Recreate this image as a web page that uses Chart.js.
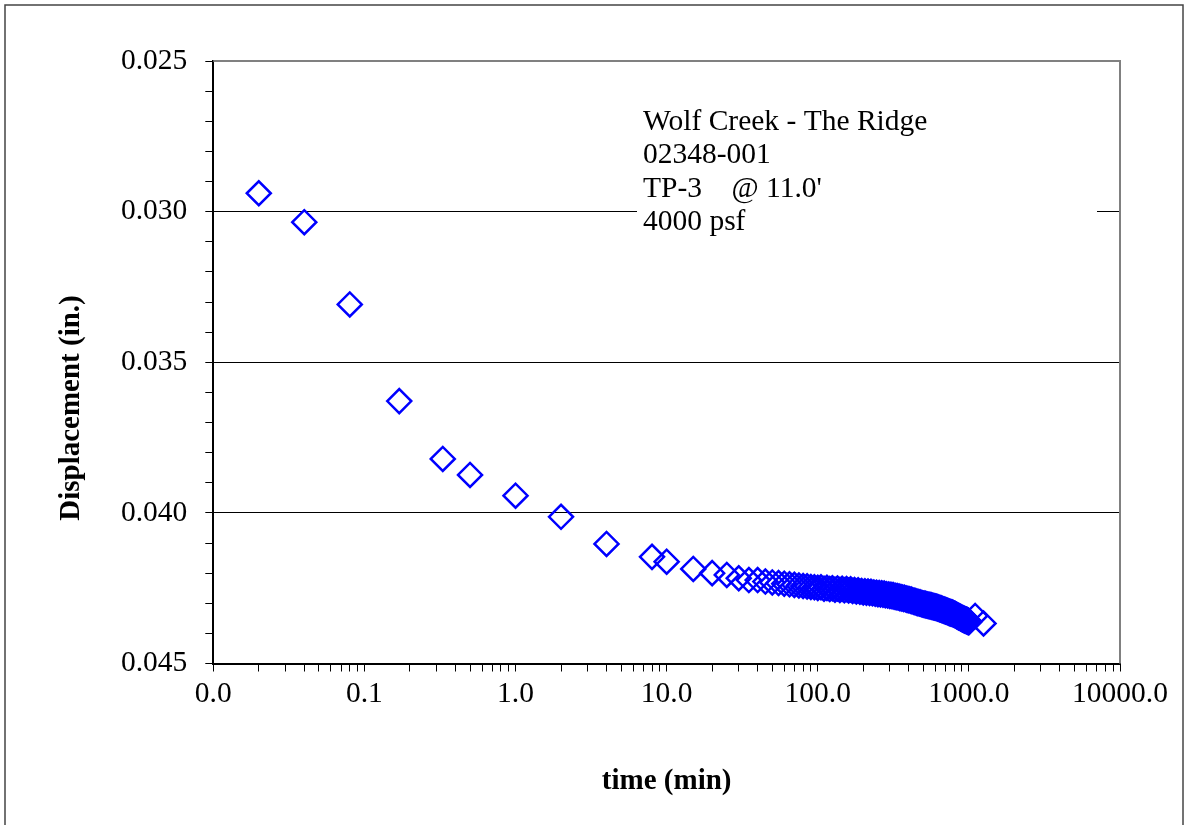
<!DOCTYPE html>
<html><head><meta charset="utf-8">
<script src="https://cdn.jsdelivr.net/npm/chart.js@4"></script>
<style>html,body{margin:0;padding:0;background:#fff;overflow:hidden}canvas{display:block}</style>
</head><body>
<canvas id="c" width="1194" height="825"></canvas>
<script>
// ---- data ----
const timeMin = [
  0.02, 0.04, 0.08, 0.17, 0.33, 0.5, 1, 2, 4, 8, 10, 15, 20, 25,
  30, 35, 40, 45, 50, 55, 60, 65, 70, 75, 80, 85, 90, 95,
  100, 105, 110, 115, 120, 125, 130, 135, 140, 145,
  150, 155, 160, 165, 170, 175, 180, 185, 190, 195,
  200, 205, 210, 215, 220, 225, 230, 235, 240, 245,
  250, 255, 260, 265, 270, 275, 280, 285, 290, 295,
  300, 305, 310, 315, 320, 325, 330, 335, 340, 345,
  350, 355, 360, 365, 370, 375, 380, 385, 390, 395,
  400, 405, 410, 415, 420, 425, 430, 435, 440, 445,
  450, 455, 460, 465, 470, 475, 480, 485, 490, 495,
  500, 505, 510, 515, 520, 525, 530, 535, 540, 545,
  550, 555, 560, 565, 570, 575, 580, 585, 590, 595,
  600, 605, 610, 615, 620, 625, 630, 635, 640, 645,
  650, 655, 660, 665, 670, 675, 680, 685, 690, 695,
  700, 705, 710, 715, 720, 725, 730, 735, 740, 745,
  750, 755, 760, 765, 770, 775, 780, 785, 790, 795,
  800, 805, 810, 815, 820, 825, 830, 835, 840, 845,
  850, 855, 860, 865, 870, 875, 880, 885, 890, 895,
  900, 905, 910, 915, 920, 925, 930, 935, 940, 945,
  950, 955, 960, 965, 970, 975, 980, 985, 990, 995,
  1000, 1100, 1250
];
const displacementIn = [
  0.02939, 0.03035, 0.03308, 0.03629, 0.03821, 0.03874, 0.03943, 0.04013, 0.04103, 0.04146, 0.04162, 0.04186, 0.04200, 0.04206,
  0.04217, 0.04223, 0.04223, 0.04228, 0.04231, 0.04233, 0.04235, 0.04237, 0.04239, 0.04241, 0.04243, 0.04244, 0.04246, 0.04247,
  0.04249, 0.04247, 0.04252, 0.04249, 0.04253, 0.04250, 0.04255, 0.04251, 0.04256, 0.04252,
  0.04257, 0.04253, 0.04258, 0.04254, 0.04259, 0.04256, 0.04261, 0.04257, 0.04262, 0.04259,
  0.04264, 0.04260, 0.04265, 0.04261, 0.04266, 0.04262, 0.04267, 0.04264, 0.04268, 0.04265,
  0.04270, 0.04266, 0.04271, 0.04267, 0.04272, 0.04268, 0.04273, 0.04270, 0.04274, 0.04271,
  0.04276, 0.04272, 0.04277, 0.04273, 0.04278, 0.04275, 0.04280, 0.04276, 0.04281, 0.04278,
  0.04283, 0.04279, 0.04284, 0.04281, 0.04286, 0.04282, 0.04287, 0.04284, 0.04289, 0.04285,
  0.04290, 0.04287, 0.04292, 0.04288, 0.04293, 0.04290, 0.04295, 0.04292, 0.04297, 0.04293,
  0.04298, 0.04295, 0.04300, 0.04296, 0.04301, 0.04297, 0.04302, 0.04299, 0.04304, 0.04300,
  0.04305, 0.04301, 0.04306, 0.04302, 0.04307, 0.04303, 0.04308, 0.04304, 0.04309, 0.04305,
  0.04310, 0.04306, 0.04311, 0.04307, 0.04312, 0.04308, 0.04313, 0.04309, 0.04314, 0.04310,
  0.04315, 0.04311, 0.04316, 0.04312, 0.04317, 0.04313, 0.04318, 0.04315, 0.04320, 0.04316,
  0.04321, 0.04317, 0.04322, 0.04318, 0.04323, 0.04320, 0.04325, 0.04321, 0.04326, 0.04322,
  0.04327, 0.04323, 0.04328, 0.04324, 0.04329, 0.04326, 0.04331, 0.04327, 0.04332, 0.04328,
  0.04333, 0.04329, 0.04334, 0.04330, 0.04335, 0.04331, 0.04336, 0.04332, 0.04337, 0.04334,
  0.04338, 0.04335, 0.04340, 0.04336, 0.04341, 0.04338, 0.04343, 0.04339, 0.04344, 0.04341,
  0.04346, 0.04342, 0.04347, 0.04343, 0.04348, 0.04345, 0.04350, 0.04346, 0.04351, 0.04347,
  0.04352, 0.04349, 0.04354, 0.04350, 0.04355, 0.04351, 0.04356, 0.04352, 0.04357, 0.04353,
  0.04358, 0.04354, 0.04359, 0.04355, 0.04360, 0.04356, 0.04361, 0.04357, 0.04362, 0.04358,
  0.04363, 0.04342, 0.04367
];
const xDecadeTicks = [0.01, 0.1, 1, 10, 100, 1000, 10000];
const yLabelTicks = [0.025, 0.030, 0.035, 0.040, 0.045];
const yGridValues = [0.030, 0.035, 0.040];
const yMinorStep = 0.001;
const noteLines = ['Wolf Creek - The Ridge', '02348-001', 'TP-3    @ 11.0\'', '4000 psf'];
const xTitle = 'time (min)';
const yTitle = 'Displacement (in.)';

const FONT = '"Liberation Serif", "Times New Roman", serif';
const near = (a, b) => Math.abs(a - b) < 1e-9;

const decor = {
  id: 'decor',
  beforeDraw(chart) {
    const ctx = chart.ctx;
    ctx.save();
    ctx.fillStyle = '#fff';
    ctx.fillRect(0, 0, chart.width, chart.height);
    ctx.strokeStyle = '#444';
    ctx.lineWidth = 1.5;
    ctx.strokeRect(5, 5, 1178, 830);
    ctx.restore();
  },
  beforeDatasetsDraw(chart) {
    const {ctx, chartArea: a} = chart;
    ctx.save();
    // plot-area frame (top & right) in grey
    ctx.strokeStyle = '#808080';
    ctx.lineWidth = 2;
    ctx.beginPath();
    ctx.moveTo(a.left, a.top);
    ctx.lineTo(a.right, a.top);
    ctx.lineTo(a.right, a.bottom);
    ctx.stroke();
    // note text box
    ctx.fillStyle = '#fff';
    ctx.fillRect(637, 98, 460, 145);
    ctx.fillStyle = '#000';
    ctx.font = '29.5px ' + FONT;
    ctx.textBaseline = 'alphabetic';
    ctx.textAlign = 'left';
    noteLines.forEach((t, i) => ctx.fillText(t, 643, 129.5 + i * 33.6));
    // y axis title
    ctx.translate(72, 408);
    ctx.rotate(-Math.PI / 2);
    ctx.textAlign = 'center';
    ctx.textBaseline = 'middle';
    ctx.font = 'bold 29px ' + FONT;
    ctx.fillText(yTitle, 0, 0);
    ctx.restore();
  }
};

new Chart(document.getElementById('c'), {
  type: 'scatter',
  data: {
    datasets: [{
      data: timeMin.map((t, i) => ({x: t, y: displacementIn[i]})),
      showLine: false,
      pointStyle: 'rectRot',
      pointRadius: 12,
      pointHoverRadius: 12,
      pointBorderWidth: 2.5,
      pointBorderColor: '#0000FF',
      pointBackgroundColor: 'rgba(0,0,0,0)'
    }]
  },
  options: {
    responsive: false,
    devicePixelRatio: 1,
    animation: false,
    events: [],
    layout: {padding: {left: 0, top: 61, right: 74, bottom: 0}},
    plugins: {legend: {display: false}, tooltip: {enabled: false}},
    scales: {
      x: {
        type: 'logarithmic',
        min: 0.01,
        max: 10000,
        afterFit(s) { s.height = 161.5; },
        afterBuildTicks(s) {
          const t = [];
          for (let d = 0; d < xDecadeTicks.length - 1; d++) {
            for (let m = 1; m < 10; m++) t.push({value: xDecadeTicks[d] * m});
          }
          t.push({value: xDecadeTicks[xDecadeTicks.length - 1]});
          s.ticks = t;
        },
        border: {color: '#000', width: 2},
        grid: {drawOnChartArea: false, drawTicks: true, tickLength: 8, tickColor: '#000', tickWidth: 1, color: '#000'},
        ticks: {
          autoSkip: false, maxRotation: 0, minRotation: 0, padding: 5,
          color: '#000', font: {family: FONT, size: 29.5},
          callback: (v) => xDecadeTicks.some(d => Math.abs(d - v) / d < 1e-9) ? Number(v).toFixed(1) : ''
        },
        title: {display: true, text: xTitle, color: '#000', font: {family: FONT, size: 29, weight: 'bold'}, padding: {top: 0, bottom: 26}}
      },
      y: {
        type: 'linear',
        reverse: true,
        min: 0.025,
        max: 0.045,
        afterFit(s) { s.width = 213.3; },
        afterBuildTicks(s) {
          const t = [];
          for (let v = yLabelTicks[0]; v <= yLabelTicks[yLabelTicks.length - 1] + 1e-9; v += yMinorStep) {
            t.push({value: Math.round(v * 1e6) / 1e6});
          }
          s.ticks = t;
        },
        border: {color: '#000', width: 2},
        grid: {
          drawTicks: true, tickLength: 8, tickColor: '#000', tickWidth: 1, lineWidth: 1,
          color: (c) => (c.tick && yGridValues.some(g => near(g, c.tick.value))) ? '#000' : 'rgba(0,0,0,0)'
        },
        ticks: {
          autoSkip: false, padding: 18, color: '#000', font: {family: FONT, size: 29.5},
          callback: (v) => yLabelTicks.some(t => near(t, v)) ? Number(v).toFixed(3) : ''
        }
      }
    }
  },
  plugins: [decor]
});
</script>
</body></html>
